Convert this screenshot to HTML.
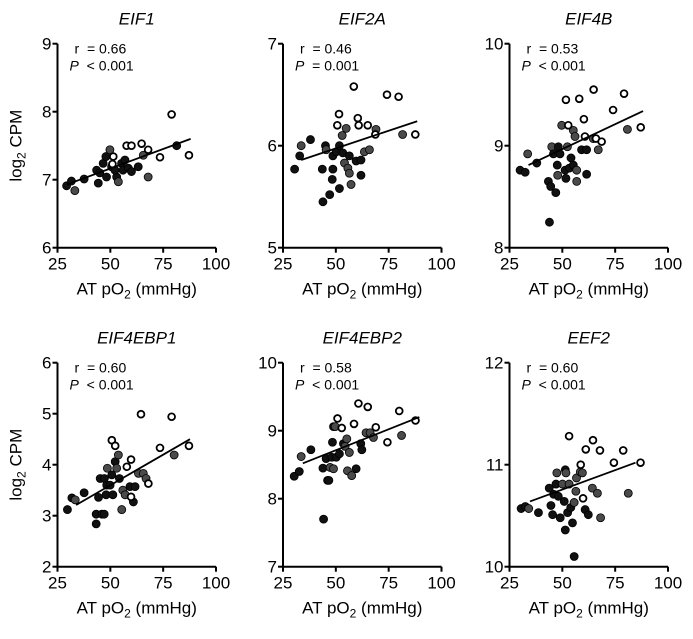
<!DOCTYPE html>
<html><head><meta charset="utf-8"><style>
body{margin:0;background:#fff;width:693px;height:639px;overflow:hidden}
svg{display:block;font-family:"Liberation Sans",sans-serif}
</style></head><body>
<svg id="c" width="693" height="639"></svg>
<script>
const titles=["EIF1","EIF2A","EIF4B","EIF4EBP1","EIF4EBP2","EEF2"];
const rVals=["0.66","0.46","0.53","0.60","0.58","0.60"];
const pVals=["< 0.001","= 0.001","< 0.001","< 0.001","< 0.001","< 0.001"];
const yMins=[6,5,8,2,7,10];
const yMaxs=[9,7,10,6,10,12];
const xTicks=[25,50,75,100];
// points: [x, y, type] type 0=black,1=gray,2=open
const pts1=[[29.3,6.91,0],[31.6,6.98,0],[33.2,6.84,1],[37.6,7.01,0],[43.5,7.14,0],[44.3,6.95,0],[45,7.1,0],[46.6,7.24,0],[47.9,7.34,0],[49.8,7.44,1],[48.2,7.04,0],[50.6,7.19,0],[53,7.04,0],[53.8,6.97,1],[52.2,7.14,0],[55.3,7.24,0],[56.9,7.29,0],[56,7.14,0],[58.5,7.17,0],[60,7.12,0],[63.2,7.19,0],[65.6,7.36,1],[67.9,7.04,1],[81.4,7.5,0],[51.4,7.34,2],[51,7.23,2],[57.7,7.5,2],[60,7.5,2],[64.8,7.53,2],[67.9,7.44,2],[73.5,7.33,2],[79,7.96,2],[87.2,7.36,2]];
const pts2=[[30.5,5.77,0],[32.9,5.9,0],[33.6,6.0,1],[38,6.06,0],[43.6,5.77,0],[43.9,5.45,0],[45.1,6.0,0],[45.4,5.96,1],[47.1,5.52,0],[48.3,5.67,0],[48.6,5.77,0],[48.6,5.9,0],[50.2,5.94,0],[51.7,5.58,0],[51.7,6.0,0],[53,6.1,1],[53.3,5.93,0],[54.1,5.83,1],[54.9,6.17,1],[55.7,5.78,1],[56.4,5.9,0],[56.4,5.73,1],[57.2,5.62,1],[59.6,5.85,0],[61.9,5.86,0],[61.9,5.71,0],[63.5,5.94,1],[65.9,5.96,1],[69,6.16,1],[81.6,6.11,1],[50.7,6.2,2],[51.5,6.31,2],[58.5,6.58,2],[60.4,6.27,2],[60.8,6.2,2],[65.1,6.2,2],[68.7,6.11,2],[74.2,6.5,2],[79.7,6.48,2],[87.6,6.11,2]];
const pts3=[[30,8.76,0],[32.4,8.74,0],[33.6,8.92,1],[37.9,8.83,0],[43.4,8.65,0],[43.9,8.25,0],[44.5,8.6,0],[45,8.99,1],[45.8,8.92,0],[46.9,8.54,0],[47.6,8.81,0],[47.8,8.71,1],[48.1,8.99,0],[48.9,8.92,0],[49.7,9.2,1],[51.3,8.76,0],[51.7,8.68,0],[52.4,8.99,1],[53.3,8.78,0],[54.1,8.88,0],[55.2,8.81,0],[55.2,9.15,1],[56,9.09,1],[56.8,8.65,1],[56.8,8.76,1],[59.1,8.96,0],[61.5,8.96,0],[61.5,8.72,0],[64.6,9.07,1],[67,8.96,1],[80.8,9.16,1],[51.7,9.45,2],[52.8,9.2,2],[58,9.46,2],[60.2,9.26,2],[60.7,9.09,2],[64.8,9.55,2],[65.9,9.07,2],[68.6,9.04,2],[74,9.35,2],[79.2,9.51,2],[87.1,9.18,2]];
const pts4=[[29.7,3.12,0],[31.8,3.35,0],[33.4,3.31,1],[37.6,3.45,0],[43.3,2.84,0],[43.3,3.03,0],[44.4,3.36,0],[45.2,3.73,0],[46,3.03,0],[47.1,3.03,0],[47.2,3.73,0],[48,3.41,0],[48.3,3.6,0],[48.6,3.93,1],[49.9,3.6,0],[50.7,3.8,0],[51.2,3.41,0],[52.3,4.06,0],[53,3.93,1],[53.8,4.19,1],[54.3,3.73,0],[55.4,3.12,1],[55.9,3.5,1],[57,3.41,1],[59.3,3.57,0],[60.9,3.27,0],[61.7,3.57,0],[63.3,3.83,1],[65.6,3.83,1],[66.9,3.73,1],[80.2,4.19,1],[50.7,4.48,2],[52.3,4.37,2],[57.8,3.96,2],[59.8,4.1,2],[59.8,3.37,2],[64.5,4.99,2],[68,3.63,2],[73.5,4.33,2],[79,4.94,2],[87.2,4.37,2]];
const pts5=[[30.3,8.33,0],[32.7,8.4,0],[33.6,8.62,1],[38.2,8.72,0],[43.9,8.45,0],[44.2,7.7,0],[45.4,8.59,0],[46.1,8.27,0],[46.7,8.27,0],[47.3,8.46,1],[48.1,8.61,0],[48.4,8.83,0],[48.9,9.06,0],[49.7,9.06,1],[48.9,8.44,1],[50.2,8.61,0],[51.7,8.66,0],[53.6,8.81,0],[54.4,8.77,1],[55.2,8.88,1],[55.5,8.41,1],[56.4,8.68,1],[57.5,8.34,1],[59.6,8.44,0],[61.8,8.81,0],[62.3,8.72,0],[64.3,8.97,1],[66.2,8.97,1],[67.8,8.9,1],[81.1,8.93,1],[50.8,9.18,2],[52.8,9.04,2],[58.6,9.1,2],[60.7,9.4,2],[65.1,9.35,2],[68.9,9.05,2],[74.4,8.83,2],[80,9.29,2],[87.7,9.15,2]];
const pts6=[[30.5,10.57,0],[32.5,10.59,0],[34.1,10.57,1],[38.7,10.53,0],[43.8,10.77,0],[44.6,10.6,0],[45.4,10.51,0],[45.9,10.71,0],[47,10.81,0],[47.4,10.92,1],[48.1,10.69,0],[49,10.48,0],[50.1,10.81,1],[50.9,10.64,0],[51.4,10.95,0],[51.7,10.92,1],[51.4,10.36,0],[52.5,10.53,0],[53.2,10.81,1],[54,10.58,0],[54.8,10.43,0],[55.6,10.63,1],[55.6,10.1,0],[56.4,10.74,1],[56.7,10.87,1],[58.5,10.93,1],[59.5,10.92,1],[60.8,10.56,0],[62.3,10.51,0],[64.2,10.77,1],[66.6,10.72,1],[68.1,10.48,1],[81.2,10.72,1],[53.2,11.28,2],[58.7,11.0,2],[59.8,10.67,2],[61.1,11.15,2],[64.5,11.24,2],[67.8,11.14,2],[74.4,11.02,2],[78.8,11.14,2],[87,11.02,2]];
const allPts=[pts1,pts2,pts3,pts4,pts5,pts6];
const fitX1=[29.5,33.6,34,33.8,34.4,34.7];
const fitY1=[6.93,5.86,8.81,3.21,8.52,10.64];
const fitX2=[88,88.5,88.2,87.7,89.5,84.6];
const fitY2=[7.6,6.24,9.34,4.5,9.2,11.02];

const NS="http://www.w3.org/2000/svg";
const svg=document.getElementById('c');
function mk(tag,attrs,parent,txt){const e=document.createElementNS(NS,tag);for(const k in attrs)e.setAttribute(k,attrs[k]);if(txt!==undefined)e.textContent=txt;parent.appendChild(e);return e;}
const colX=[57.5,283,509.5], rowY=[43.7,362.7], W=158.5, H=204;
for(let i=0;i<6;i++){
  const ox=colX[i%3], oy=rowY[Math.floor(i/3)];
  const g=mk('g',{},svg);
  
  
  const sx=v=>ox+(v-25)/75*W;
  const sy=v=>oy+H-(v-yMins[i])/(yMaxs[i]-yMins[i])*H;
  const t=mk('text',{x:ox+W/2,y:oy-19,'text-anchor':'middle','font-size':17,'font-style':'italic'},g,titles[i]);
  
  
  const ax=mk('path',{d:`M${ox},${oy} V${oy+H} H${ox+W}`,stroke:'#000','stroke-width':2,fill:'none'},g);
  
  
  for(let v=yMins[i];v<=yMaxs[i];v++){
    mk('line',{x1:ox-5,x2:ox,y1:sy(v),y2:sy(v),stroke:'#000','stroke-width':2},g);
    const l=mk('text',{x:ox-6,y:sy(v)+6,'text-anchor':'end','font-size':17},g,String(v));
    
    
  }
  xTicks.forEach(v=>{
    mk('line',{x1:sx(v),x2:sx(v),y1:oy+H,y2:oy+H+5,stroke:'#000','stroke-width':2},g);
    const l=mk('text',{x:sx(v),y:oy+H+22,'text-anchor':'middle','font-size':17},g,String(v));
    
    
  });
  const xt=mk('text',{x:ox+W/2,y:oy+H+47,'text-anchor':'middle','font-size':17},g);
  
  
  xt.innerHTML='AT pO<tspan font-size="12" dy="4">2</tspan><tspan dy="-4"> (mmHg)</tspan>';
  if(i%3===0){
    const yt=mk('text',{transform:`translate(${ox-36},${oy+H/2}) rotate(-90)`,'text-anchor':'middle','font-size':17},g);
    
    
    yt.innerHTML='log<tspan font-size="12" dy="4">2</tspan><tspan dy="-4"> CPM</tspan>';
  }
  const a1=mk('text',{x:ox+17,y:oy+10,'font-size':14},g,'r\u00a0\u00a0= '+rVals[i]);
  
  
  const a2=mk('text',{x:ox+12,y:oy+27,'font-size':14},g);
  
  
  a2.innerHTML='<tspan font-style="italic">P</tspan>&#160;&#160;'+pVals[i].replace('<','&lt;');
  allPts[i].forEach(p=>{
    const c=mk('circle',{cx:sx(p[0]),cy:sy(p[1]),r:p[2]===2?3.4:4,fill:p[2]===0?'#111':p[2]===1?'#4a4a4a':'#fff',stroke:'#000','stroke-width':p[2]===2?1.8:0.8},g);
    
    
  });
  const fl=mk('line',{x1:sx(fitX1[i]),y1:sy(fitY1[i]),x2:sx(fitX2[i]),y2:sy(fitY2[i]),stroke:'#000','stroke-width':1.8},g);
  
  
}
</script>
</body></html>
